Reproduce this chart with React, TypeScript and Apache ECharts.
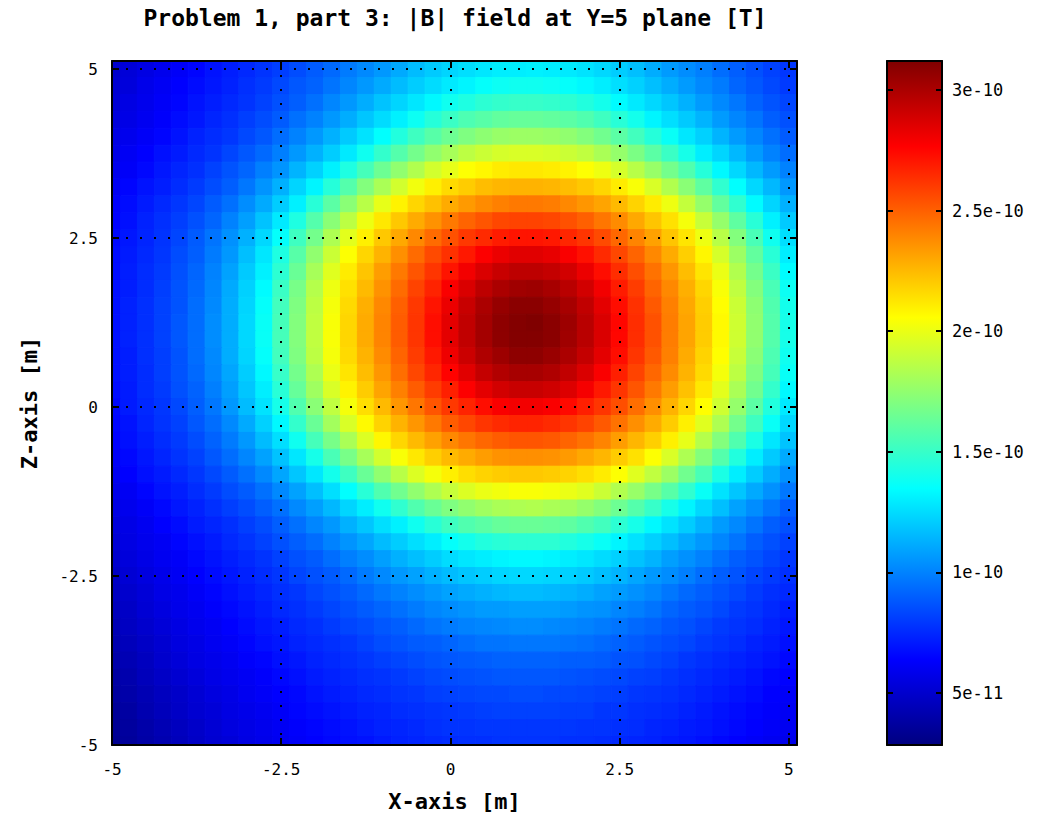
import React, { useEffect, useRef } from "react";
import * as echarts from "echarts";

// Grid coordinates [m]
const X_VALUES = [
  -5, -4.75, -4.5, -4.25, -4, -3.75, -3.5, -3.25, -3, -2.75, -2.5, -2.25, -2, -1.75, -1.5, -1.25, -1, -0.75, -0.5, -0.25,
  0, 0.25, 0.5, 0.75, 1, 1.25, 1.5, 1.75, 2, 2.25, 2.5, 2.75, 3, 3.25, 3.5, 3.75, 4, 4.25, 4.5, 4.75, 5,
];
const Z_VALUES = [
  5, 4.75, 4.5, 4.25, 4, 3.75, 3.5, 3.25, 3, 2.75, 2.5, 2.25, 2, 1.75, 1.5, 1.25, 1, 0.75, 0.5, 0.25,
  0, -0.25, -0.5, -0.75, -1, -1.25, -1.5, -1.75, -2, -2.25, -2.5, -2.75, -3, -3.25, -3.5, -3.75, -4, -4.25, -4.5, -4.75, -5,
];

// |B| in pT (1e-12 T); rows follow Z_VALUES (top to bottom), columns follow X_VALUES
const B_FIELD_PT: number[][] = [
  [50,53,56,59,62,65,69,72,75,78,81,85,89,93,98,102,106,111,116,120,123,126,128,130,130,131,130,129,127,124,121,117,112,107,103,99,94,90,86,82,79],
  [51,54,58,61,64,67,70,73,77,80,84,88,91,96,101,106,111,116,121,125,129,132,136,138,139,139,138,136,133,130,126,122,117,112,107,102,98,92,88,84,80],
  [52,56,59,62,65,69,72,75,78,82,86,90,95,101,106,112,118,123,128,133,139,143,147,149,150,150,149,147,144,140,134,129,124,119,113,107,102,97,91,87,83],
  [54,57,60,63,67,70,74,77,81,85,89,95,100,106,112,119,125,131,138,145,151,156,159,162,163,163,162,160,157,152,146,140,132,126,120,114,107,101,96,90,86],
  [56,59,62,65,69,73,76,79,84,88,94,100,106,113,120,127,135,144,152,159,165,170,174,177,178,178,177,175,171,166,160,153,145,137,128,122,114,107,101,95,89],
  [57,61,64,68,71,75,78,83,88,93,99,106,113,121,129,139,149,158,167,175,181,187,191,194,195,195,194,191,188,182,176,169,160,151,141,130,123,115,107,100,94],
  [59,62,66,70,74,77,82,87,92,99,105,114,122,131,143,154,165,175,184,193,199,205,208,211,212,212,211,209,205,201,194,186,177,167,157,145,133,124,115,107,100],
  [61,65,69,72,76,80,85,90,97,105,113,123,132,145,158,171,182,193,202,210,216,220,224,226,227,227,226,224,221,217,211,204,195,184,173,161,148,135,124,115,106],
  [63,67,71,75,79,83,89,95,103,111,121,131,146,160,173,186,199,209,217,223,229,234,238,241,243,243,242,239,235,231,225,218,211,201,189,176,162,148,134,123,113],
  [64,68,73,77,81,86,92,100,108,118,129,143,158,173,187,201,212,221,229,236,243,249,253,257,258,258,257,254,250,244,238,230,222,214,203,190,176,161,146,131,120],
  [66,70,74,78,83,89,96,104,113,124,136,152,167,183,198,210,221,230,239,247,254,261,265,269,271,271,270,266,262,256,248,240,232,222,213,201,186,171,155,139,126],
  [67,71,75,79,85,90,98,106,117,128,143,159,175,191,205,217,227,237,247,256,263,270,277,282,285,285,283,278,272,265,257,249,239,229,219,208,194,178,162,146,130],
  [67,72,76,80,86,92,100,109,120,131,147,164,181,197,211,222,233,243,253,262,271,280,287,292,295,295,293,289,282,273,264,255,245,235,224,213,200,184,167,151,134],
  [68,72,76,81,87,93,101,111,122,134,151,168,185,201,214,225,236,247,258,267,278,287,295,300,303,304,301,296,289,280,269,260,249,239,228,217,204,188,171,155,138],
  [68,73,77,82,87,94,102,112,123,136,153,170,187,203,216,228,239,250,261,271,282,292,300,306,309,309,306,301,294,284,273,263,252,241,230,219,206,191,174,157,140],
  [68,73,77,82,88,94,103,112,124,137,154,171,188,204,217,229,240,251,262,273,284,294,302,308,311,312,309,304,296,287,275,264,254,242,231,220,207,192,175,158,141],
  [68,73,77,82,88,94,103,112,124,137,154,171,188,204,217,229,240,251,262,273,284,294,302,308,311,311,309,303,296,287,275,264,254,242,231,220,207,192,175,158,141],
  [68,72,77,81,87,94,102,112,123,136,153,170,187,203,216,227,238,249,260,270,281,291,299,304,308,308,305,300,293,284,273,262,252,241,229,218,206,190,173,156,139],
  [68,72,76,81,87,93,101,110,121,133,150,167,183,200,213,224,235,246,257,266,276,285,293,298,301,301,299,294,287,278,268,258,248,238,227,216,203,187,170,154,137],
  [67,71,76,80,86,91,99,108,119,130,146,163,179,195,209,220,231,241,251,260,268,277,284,289,292,292,290,286,279,270,262,253,243,233,223,212,198,182,166,149,133],
  [66,71,75,79,84,90,97,106,116,127,141,157,173,188,203,215,225,235,244,253,261,267,273,278,280,280,278,274,268,262,255,246,237,227,217,206,192,176,160,144,129],
  [65,69,74,78,82,88,94,102,111,122,133,149,164,180,195,207,218,227,235,243,251,257,262,265,267,267,265,262,258,252,245,237,229,220,210,197,183,167,152,137,124],
  [64,68,72,76,80,85,91,98,106,116,126,139,154,168,182,196,208,217,225,232,239,244,248,251,253,253,252,249,245,240,233,226,219,210,199,185,171,157,142,128,118],
  [62,66,70,74,78,82,88,94,101,109,118,128,141,155,168,181,193,204,212,219,225,229,233,236,237,237,236,234,230,226,220,214,205,195,183,171,158,144,130,120,111],
  [60,64,68,71,75,79,84,89,95,102,110,119,128,140,152,164,175,186,196,203,210,215,218,220,221,221,220,218,215,211,205,197,188,178,166,155,142,130,121,112,104],
  [58,61,65,69,72,76,80,85,89,95,102,109,117,126,135,146,157,166,175,183,190,196,200,202,204,204,203,200,197,191,184,177,168,159,148,137,127,119,111,104,97],
  [56,59,62,66,70,73,77,81,85,90,95,102,108,115,123,130,139,148,157,164,170,175,179,182,183,184,182,180,176,171,165,158,150,141,132,124,117,109,103,97,90],
  [54,57,60,64,67,71,74,77,81,85,90,95,101,106,113,119,126,131,139,146,152,157,160,163,164,164,163,161,157,153,147,141,133,127,121,114,107,102,96,90,86],
  [52,56,59,61,65,68,71,75,78,82,86,90,94,100,105,110,116,121,126,130,136,140,144,146,147,147,147,144,141,137,132,127,122,117,111,106,101,96,90,86,82],
  [50,54,57,60,62,66,69,72,75,78,82,86,89,94,99,103,108,113,117,121,125,128,130,132,133,133,132,130,128,125,122,118,114,108,104,100,95,90,87,83,79],
  [48,52,55,58,61,64,67,70,73,76,79,83,86,89,93,98,102,106,109,113,116,119,121,123,124,124,123,122,120,117,114,110,106,103,99,94,90,87,83,80,77],
  [47,50,53,57,59,62,65,68,71,74,77,79,83,86,89,93,97,100,103,106,109,111,113,115,116,116,115,114,112,109,107,104,101,97,93,90,87,84,80,77,75],
  [45,48,52,55,58,60,63,66,69,72,75,77,80,83,86,89,92,95,98,101,103,105,107,107,108,108,108,107,105,104,101,99,96,92,89,87,84,80,78,75,72],
  [43,47,50,53,56,59,61,64,67,70,72,75,77,80,83,85,88,90,93,96,98,100,101,102,103,103,102,101,100,98,96,93,91,88,86,83,80,78,76,73,70],
  [42,45,48,51,55,57,60,62,65,68,70,73,75,77,79,82,85,87,89,90,92,94,96,96,97,97,97,96,95,93,91,89,87,85,83,80,78,76,73,71,68],
  [40,43,46,50,53,56,58,60,63,65,68,70,73,75,77,79,81,83,85,87,88,89,90,91,91,91,91,90,90,89,87,86,84,82,79,77,75,73,71,69,66],
  [38,41,45,48,51,54,57,59,61,63,66,68,71,73,75,77,78,80,82,84,85,86,87,88,88,88,88,87,86,85,84,82,81,79,77,75,73,71,69,66,64],
  [37,40,43,46,49,52,55,57,60,62,64,66,69,71,73,75,76,78,79,81,82,83,84,84,85,85,84,84,83,82,81,79,78,77,75,73,71,69,67,64,62],
  [35,38,42,45,48,51,53,56,58,60,62,65,67,69,71,73,74,76,77,78,79,80,81,82,82,82,82,81,81,79,79,77,76,75,73,71,69,67,65,63,61],
  [34,37,40,43,46,49,52,55,57,59,61,63,65,67,69,71,73,74,75,77,78,78,79,79,79,79,79,79,78,78,77,76,74,73,71,70,68,66,64,62,60],
  [33,36,39,42,45,48,51,53,56,58,60,62,64,66,68,69,71,73,74,75,76,77,77,78,78,78,78,77,77,76,75,74,73,71,70,68,66,64,62,60,58],
];

// Axis extents (the plot box runs slightly past +5 on both axes)
const AXIS_MIN = -5;
const X_AXIS_MAX = 5.12;
const Z_AXIS_MAX = 5.12;
const AXIS_STEP = 2.5;

const COLOR_MIN = 2.85e-11;
const COLOR_MAX = 3.12e-10;
const COLORBAR_TICKS = [5e-11, 1e-10, 1.5e-10, 2e-10, 2.5e-10, 3e-10];
const COLORBAR_LABELS = ["5e-11", "1e-10", "1.5e-10", "2e-10", "2.5e-10", "3e-10"];
const JET = ["#000080", "#0000ff", "#0080ff", "#00ffff", "#80ff80", "#ffff00", "#ff8000", "#ff0000", "#800000"];

const TITLE = "Problem 1, part 3: |B| field at Y=5 plane [T]";
const X_NAME = "X-axis [m]";
const Z_NAME = "Z-axis [m]";

const MONO = "'DejaVu Sans Mono', 'Liberation Mono', monospace";

const PLOT = { left: 112, top: 61, width: 685, height: 684 };
const CBAR = { left: 887, top: 61, width: 55, height: 684 };

export default function App() {
  const ref = useRef<HTMLDivElement>(null);

  useEffect(() => {
    if (!ref.current) return;
    const chart = echarts.init(ref.current, null, { renderer: "svg" });

    const halfX = Math.abs(X_VALUES[1] - X_VALUES[0]) / 2;
    const halfZ = Math.abs(Z_VALUES[1] - Z_VALUES[0]) / 2;
    const data: number[][] = [];
    Z_VALUES.forEach((z, i) => {
      X_VALUES.forEach((x, j) => {
        data.push([x, z, B_FIELD_PT[i][j] * 1e-12]);
      });
    });

    const lineStyle = { color: "#000", width: 2 };
    const dotted = { show: true, lineStyle: { color: "#000", width: 2, type: [2, 12] as any } };

    const mainAxis = (max: number, extra: any) => ({
      type: "value",
      min: AXIS_MIN,
      max,
      interval: AXIS_STEP,
      gridIndex: 0,
      z: 10,
      axisLine: { show: true, onZero: false, lineStyle },
      axisTick: { show: true, inside: true, length: 7, lineStyle },
      splitLine: { show: false },
      axisLabel: { show: false },
      ...extra,
    });

    const tickLabel = {
      show: true,
      color: "#000",
      fontFamily: MONO,
      fontSize: 16,
      showMaxLabel: false,
      formatter: (v: number) => String(v),
    };

    const cbarLabel = (v: number) => {
      let best = 0;
      COLORBAR_TICKS.forEach((t, i) => {
        if (Math.abs(t - v) < Math.abs(COLORBAR_TICKS[best] - v)) best = i;
      });
      return COLORBAR_LABELS[best];
    };

    const option: any = {
      animation: false,
      backgroundColor: "#fff",
      grid: [
        { ...PLOT, containLabel: false },
        { ...CBAR, containLabel: false },
      ],
      visualMap: {
        type: "continuous",
        show: false,
        min: COLOR_MIN,
        max: COLOR_MAX,
        dimension: 2,
        seriesIndex: 0,
        inRange: { color: JET },
      },
      xAxis: [
        mainAxis(X_AXIS_MAX, {
          position: "bottom",
          splitLine: dotted,
          axisLabel: { ...tickLabel, margin: 16 },
          name: X_NAME,
          nameLocation: "middle",
          nameGap: 45,
          nameTextStyle: { color: "#000", fontFamily: MONO, fontWeight: "bold", fontSize: 22 },
        }),
        mainAxis(X_AXIS_MAX, { position: "top" }),
        {
          type: "value", gridIndex: 1, min: 0, max: 1, position: "bottom", z: 10,
          axisLine: { show: true, onZero: false, lineStyle },
          axisTick: { show: false }, axisLabel: { show: false }, splitLine: { show: false },
        },
        {
          type: "value", gridIndex: 1, min: 0, max: 1, position: "top", z: 10,
          axisLine: { show: true, onZero: false, lineStyle },
          axisTick: { show: false }, axisLabel: { show: false }, splitLine: { show: false },
        },
      ],
      yAxis: [
        mainAxis(Z_AXIS_MAX, {
          position: "left",
          splitLine: dotted,
          axisLabel: { ...tickLabel, margin: 14 },
          name: Z_NAME,
          nameLocation: "middle",
          nameRotate: 90,
          nameGap: 72,
          nameTextStyle: { color: "#000", fontFamily: MONO, fontWeight: "bold", fontSize: 22 },
        }),
        mainAxis(Z_AXIS_MAX, { position: "right" }),
        {
          type: "value", gridIndex: 1, min: COLOR_MIN, max: COLOR_MAX, position: "left", z: 10,
          axisLine: { show: true, onZero: false, lineStyle },
          axisTick: { show: true, inside: true, length: 6, lineStyle, customValues: COLORBAR_TICKS },
          axisLabel: { show: false },
          splitLine: { show: false },
        },
        {
          type: "value", gridIndex: 1, min: COLOR_MIN, max: COLOR_MAX, position: "right", z: 10,
          axisLine: { show: true, onZero: false, lineStyle },
          axisTick: { show: true, inside: true, length: 6, lineStyle, customValues: COLORBAR_TICKS },
          axisLabel: {
            show: true,
            margin: 10,
            color: "#000",
            fontFamily: MONO,
            fontSize: 17,
            customValues: COLORBAR_TICKS,
            formatter: (v: number) => cbarLabel(v),
          },
          splitLine: { show: false },
        },
      ],
      graphic: [
        {
          type: "rect",
          z: 1,
          shape: { x: CBAR.left, y: CBAR.top, width: CBAR.width, height: CBAR.height },
          style: {
            fill: {
              type: "linear",
              x: 0, y: 1, x2: 0, y2: 0,
              colorStops: JET.map((c, i) => ({ offset: i / (JET.length - 1), color: c })),
            },
          },
        },
        {
          type: "text",
          z: 20,
          x: 455,
          y: 18,
          style: {
            text: TITLE,
            fill: "#000",
            fontFamily: MONO,
            fontWeight: "bold",
            fontSize: 23,
            align: "center",
            verticalAlign: "middle",
          },
        },
      ],
      series: [
        {
          type: "custom",
          xAxisIndex: 0,
          yAxisIndex: 0,
          data,
          encode: { x: 0, y: 1 },
          renderItem: (params: any, api: any) => {
            const x = api.value(0);
            const z = api.value(1);
            const p0 = api.coord([x - halfX, z + halfZ]);
            const p1 = api.coord([x + halfX, z - halfZ]);
            const cs = params.coordSys;
            const rect = echarts.graphic.clipRectByRect(
              { x: p0[0], y: p0[1], width: p1[0] - p0[0], height: p1[1] - p0[1] },
              { x: cs.x, y: cs.y, width: cs.width, height: cs.height }
            );
            if (!rect) return null;
            const color = api.visual("color");
            return {
              type: "rect",
              shape: rect,
              style: { fill: color, stroke: color, lineWidth: 1 },
            };
          },
        },
      ],
    };

    chart.setOption(option);
    return () => chart.dispose();
  }, []);

  return (
    <div
      ref={ref}
      style={{ position: "absolute", left: 0, top: 0, width: 1042, height: 826 }}
    />
  );
}
